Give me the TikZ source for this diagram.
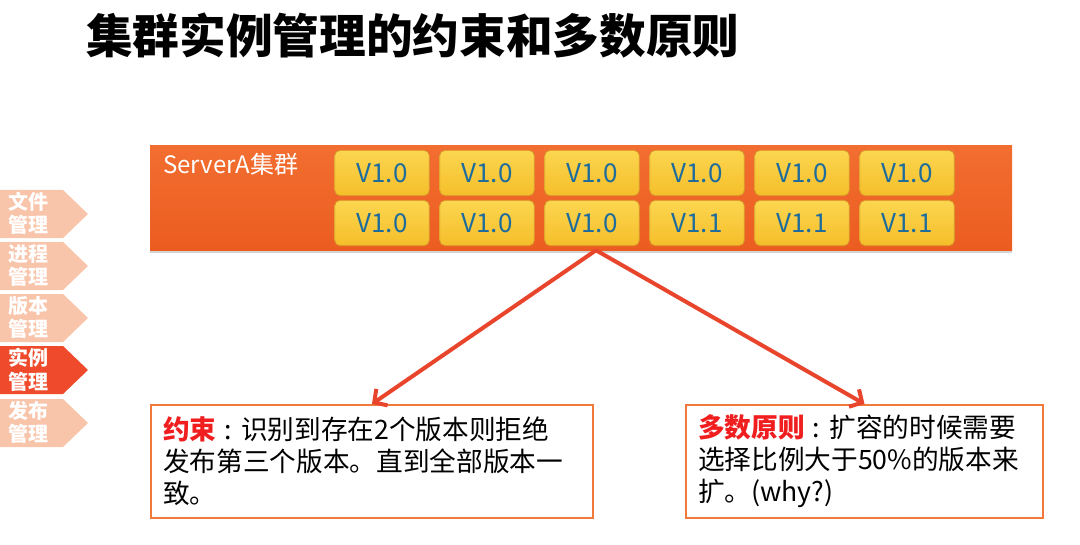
\documentclass[tikz,border=0pt]{standalone}
\usepackage{fontspec}
\setmainfont{Noto Sans CJK SC}
\usetikzlibrary{arrows.meta, positioning, shadows}

\definecolor{bartop}{HTML}{F26E30}
\definecolor{barbot}{HTML}{EC5C20}
\definecolor{celltop}{HTML}{FCD650}
\definecolor{cellbot}{HTML}{F5BE2A}
\definecolor{cellrim}{HTML}{D9962A}
\definecolor{cellblue}{HTML}{1E6C9C}
\definecolor{tablight}{HTML}{F8C4AA}
\definecolor{tabactive}{HTML}{EE4A2B}
\definecolor{arrowred}{HTML}{E8452C}
\definecolor{boxrim}{HTML}{F07A3C}
\definecolor{keyred}{HTML}{F01E1E}

\newcommand{\keycolon}{\hspace{0.3em}:\hspace{0.35em}}

\begin{document}
\begin{tikzpicture}[x=0.75pt, y=-0.75pt,
  cell/.style={draw=cellrim, line width=0.6pt, rounded corners=4pt,
    top color=celltop, bottom color=cellbot,
    minimum width=71pt, minimum height=34pt, inner sep=0pt,
    text=cellblue, font=\fontsize{19.5}{22}\selectfont},
  notebox/.style={draw=boxrim, line width=1.5pt, fill=white,
    minimum height=84.75pt, inner xsep=9pt, inner ysep=4pt,
    align=left, font=\fontsize{20}{24}\selectfont},
  tabtext/.style={text=white, align=left, inner sep=0pt,
    font=\fontsize{15}{17.5}\selectfont\bfseries},
  link/.style={arrowred, line width=3pt,
    -{Straight Barb[length=7pt, width=15pt]}}]

  \useasboundingbox (0,0) rectangle (1080,545);

  % Title
  \node[anchor=west, inner sep=0pt, font=\fontsize{35}{40}\selectfont\bfseries]
    (title) at (86,36) {集群实例管理的约束和多数原则};

  % Side tabs
  \foreach \t/\lbl/\col [count=\i] in {190/文件/tablight, 242/进程/tablight,
      294/版本/tablight, 346/实例/tabactive, 399/发布/tablight} {
    \fill[\col] (0,\t) -- (63,\t) -- (88,\t+24) -- (63,\t+48) -- (0,\t+48) -- cycle;
    \node[tabtext, anchor=north west] (tab\i) at (8,\t+2) {\lbl\\管理};
  }

  % Cluster bar
  \node[top color=bartop, bottom color=barbot, minimum width=646.5pt,
    minimum height=78pt, inner sep=0pt,
    drop shadow={shadow xshift=0pt, shadow yshift=-2pt, opacity=0.35}]
    (bar) at (581,198) {};
  \node[anchor=north west, text=white, inner sep=0pt,
    font=\fontsize{18}{21}\selectfont] (barlabel) at (163,153) {ServerA集群};

  % Instances
  \foreach \up/\down [count=\c] in {V1.0/V1.0, V1.0/V1.0, V1.0/V1.0,
      V1.0/V1.1, V1.0/V1.1, V1.0/V1.1} {
    \node[cell] (r1c\c) at (382+105*\c-105,173) {\up};
    \node[cell] (r2c\c) at (382+105*\c-105,223) {\down};
  }

  % Notes
  \node[notebox, anchor=north west, text width=313.5pt] (limit) at (150,404)
    {{\color{keyred}\bfseries 约束}\keycolon 识别到存在2个版本则拒绝\\
     发布第三个版本。直到全部版本一\\致。};
  \node[notebox, anchor=north west, text width=249.75pt] (major) at (685,404)
    {{\color{keyred}\bfseries 多数原则}\keycolon 扩容的时候需要\\
     选择比例大于50\%的版本来\\扩。(why?)};

  % Links
  \coordinate (fork) at ([xshift=3pt]bar.south -| r2c3.south);
  \draw[link] (fork) -- (limit.north);
  \draw[link] (fork) -- (major.north);

\end{tikzpicture}
\end{document}
